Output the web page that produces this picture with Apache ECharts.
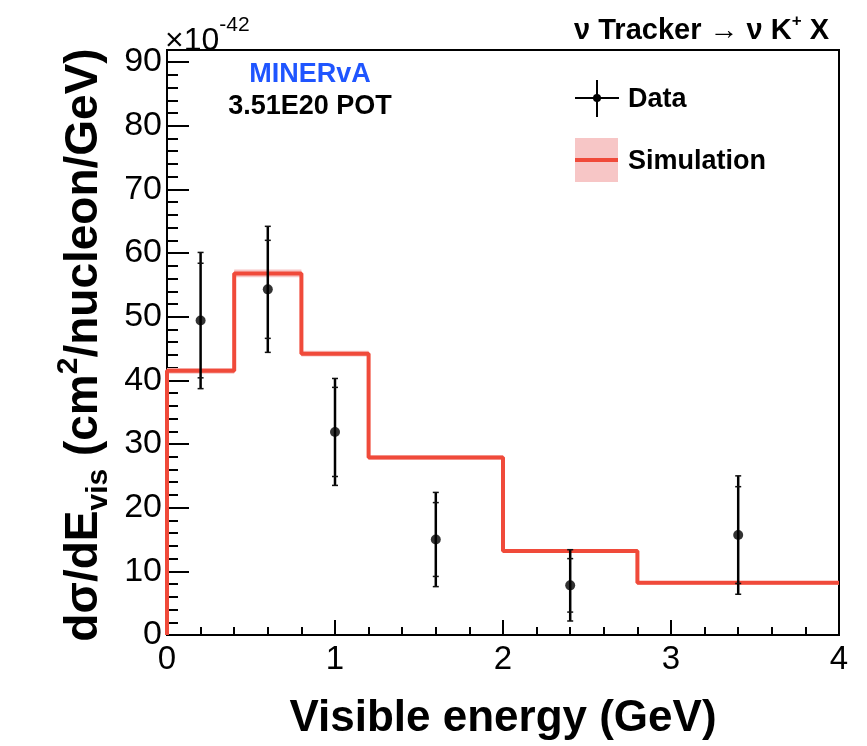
<!DOCTYPE html>
<html><head><meta charset="utf-8">
<script src="https://cdn.jsdelivr.net/npm/echarts@6/dist/echarts.min.js"></script>
<style>html,body{margin:0;padding:0;background:#fff}#c{width:867px;height:746px}</style>
</head><body><div id="c"></div>
<script>
// Simulation histogram (bin edges and contents, x1e-42)
const binEdges = [0, 0.4, 0.8, 1.2, 2.0, 2.8, 4.0];
const simValues = [41.5, 56.8, 44.2, 27.9, 13.2, 8.2];
const simBandErr = [0.45, 0.6, 0.45, 0.35, 0.3, 0.3];
// Data points
const dataX = [0.2, 0.6, 1.0, 1.6, 2.4, 3.4];
const dataY = [49.4, 54.3, 31.9, 15.0, 7.8, 15.7];
const errTotal = [10.7, 9.9, 8.4, 7.4, 5.6, 9.3];
const errStat = [9.0, 7.7, 7.0, 5.8, 4.2, 7.6];
// Axis ticks
const xTicks = [0, 1, 2, 3, 4];
const yTicks = [0, 10, 20, 30, 40, 50, 60, 70, 80, 90];

const FONT = 'Liberation Sans, Arial, Helvetica, sans-serif';
const RED = '#f04a3a';

const stepData = [[binEdges[0], 0]];
for (let i = 0; i < simValues.length; i++) stepData.push([binEdges[i], simValues[i]]);
stepData.push([binEdges[binEdges.length - 1], simValues[simValues.length - 1]]);

const bandData = simValues.map((v, i) => [binEdges[i], binEdges[i + 1], v - simBandErr[i], v + simBandErr[i]]);
const errData = dataX.map((x, i) => [x, dataY[i] - errTotal[i], dataY[i] + errTotal[i], dataY[i] - errStat[i], dataY[i] + errStat[i]]);
const ptData = dataX.map((x, i) => [x, dataY[i]]);

const chart = echarts.init(document.getElementById('c'), null, {renderer: 'canvas'});
chart.setOption({
  animation: false,
  backgroundColor: '#fff',
  grid: {left: 167, right: 28, top: 50, bottom: 107, show: true, borderColor: '#000', borderWidth: 2, backgroundColor: 'transparent'},
  xAxis: {
    type: 'value', min: xTicks[0], max: xTicks[xTicks.length - 1], interval: 1,
    axisLine: {show: true, onZero: false, lineStyle: {color: '#000', width: 2}},
    axisTick: {show: true, inside: true, length: 15, lineStyle: {color: '#000', width: 2}},
    minorTick: {show: true, splitNumber: 5, length: 8, lineStyle: {color: '#000', width: 2}},
    splitLine: {show: false},
    axisLabel: {color: '#000', fontFamily: FONT, fontSize: 33, margin: 8},
    name: 'Visible energy (GeV)', nameLocation: 'middle', nameGap: 62,
    nameTextStyle: {color: '#000', fontFamily: FONT, fontWeight: 'bold', fontSize: 44, align: 'center'}
  },
  yAxis: {
    type: 'value', min: yTicks[0], max: 91.9, interval: 10,
    axisLine: {show: true, onZero: false, lineStyle: {color: '#000', width: 2}},
    axisTick: {show: true, inside: true, length: 22, lineStyle: {color: '#000', width: 2}},
    minorTick: {show: true, splitNumber: 5, length: 11, lineStyle: {color: '#000', width: 2}},
    splitLine: {show: false},
    axisLabel: {color: '#000', fontFamily: FONT, fontSize: 34, margin: 5, showMaxLabel: false}
  },
  series: [
    {
      type: 'custom', z: 2, silent: true,
      renderItem: function (params, api) {
        const p1 = api.coord([api.value(0), api.value(3)]);
        const p2 = api.coord([api.value(1), api.value(2)]);
        return {type: 'rect', shape: {x: p1[0], y: p1[1], width: p2[0] - p1[0], height: p2[1] - p1[1]},
          style: {fill: '#f7c6c6'}};
      },
      data: bandData, clip: false
    },
    {
      type: 'line', z: 3, step: 'end', data: stepData, showSymbol: false, silent: true,
      lineStyle: {color: RED, width: 4}, clip: false
    },
    {
      type: 'custom', z: 4, silent: true,
      renderItem: function (params, api) {
        const x = api.value(0);
        const a = api.coord([x, api.value(1)]);
        const b = api.coord([x, api.value(2)]);
        const c = api.coord([x, api.value(3)]);
        const d = api.coord([x, api.value(4)]);
        const cap = 3;
        const st = {stroke: '#000', lineWidth: 2.5};
        const mk = (p) => ({type: 'line', shape: {x1: p[0] - cap, y1: p[1], x2: p[0] + cap, y2: p[1]}, style: {stroke: '#111', lineWidth: 1.5}});
        return {type: 'group', children: [
          {type: 'line', shape: {x1: a[0], y1: a[1], x2: b[0], y2: b[1]}, style: st},
          mk(a), mk(b), mk(c), mk(d)
        ]};
      },
      data: errData
    },
    {
      type: 'scatter', z: 5, data: ptData, symbol: 'circle', symbolSize: 10,
      itemStyle: {color: '#000'}, silent: true
    }
  ],
  graphic: [
    {type: 'text', x: 84, y: 345, rotation: Math.PI / 2, z: 10,
      style: {
        text: '{n|dσ/dE}{s|vis}{n| (cm}{p|2}{n|/nucleon/GeV)}',
        align: 'center', verticalAlign: 'middle', fill: '#000',
        rich: {
          n: {fontFamily: FONT, fontWeight: 'bold', fontSize: 46, lineHeight: 60, verticalAlign: 'middle'},
          s: {fontFamily: FONT, fontWeight: 'bold', fontSize: 30, lineHeight: 60, verticalAlign: 'bottom'},
          p: {fontFamily: FONT, fontWeight: 'bold', fontSize: 30, lineHeight: 60, verticalAlign: 'top'}
        }
      }},
    {type: 'text', x: 165, y: 36, z: 10,
      style: {text: '{a|×10}{b|-42}', verticalAlign: 'middle', fill: '#000',
        rich: {a: {fontFamily: FONT, fontSize: 32, lineHeight: 42, verticalAlign: 'bottom'},
               b: {fontFamily: FONT, fontSize: 21, lineHeight: 42, verticalAlign: 'top'}}}},
    {type: 'text', x: 829, y: 31, z: 10,
      style: {text: '{n|ν Tracker → ν K}{p|+}{n| X}', align: 'right', verticalAlign: 'middle', fill: '#000',
        rich: {n: {fontFamily: FONT, fontWeight: 'bold', fontSize: 29, lineHeight: 36, verticalAlign: 'middle'},
               p: {fontFamily: FONT, fontWeight: 'bold', fontSize: 17, lineHeight: 36, verticalAlign: 'top'}}}},
    {type: 'text', x: 310, y: 75, z: 10,
      style: {text: 'MINERvA', align: 'center', verticalAlign: 'middle', fill: '#1f55ff',
        fontFamily: FONT, fontWeight: 'bold', fontSize: 27}},
    {type: 'text', x: 310, y: 107, z: 10,
      style: {text: '3.51E20 POT', align: 'center', verticalAlign: 'middle', fill: '#000',
        fontFamily: FONT, fontWeight: 'bold', fontSize: 27}},
    // legend: Data
    {type: 'line', z: 10, shape: {x1: 575, y1: 98, x2: 619, y2: 98}, style: {stroke: '#000', lineWidth: 2}},
    {type: 'line', z: 10, shape: {x1: 597, y1: 80, x2: 597, y2: 117}, style: {stroke: '#000', lineWidth: 2}},
    {type: 'circle', z: 11, shape: {cx: 597, cy: 98, r: 4}, style: {fill: '#000'}},
    {type: 'text', x: 628, y: 100, z: 10,
      style: {text: 'Data', verticalAlign: 'middle', fill: '#000', fontFamily: FONT, fontWeight: 'bold', fontSize: 27}},
    // legend: Simulation
    {type: 'rect', z: 10, shape: {x: 575, y: 138, width: 43, height: 44}, style: {fill: '#f7c6c6'}},
    {type: 'line', z: 11, shape: {x1: 575, y1: 160, x2: 618, y2: 160}, style: {stroke: RED, lineWidth: 4}},
    {type: 'text', x: 628, y: 162, z: 10,
      style: {text: 'Simulation', verticalAlign: 'middle', fill: '#000', fontFamily: FONT, fontWeight: 'bold', fontSize: 27}}
  ]
});
</script></body></html>
